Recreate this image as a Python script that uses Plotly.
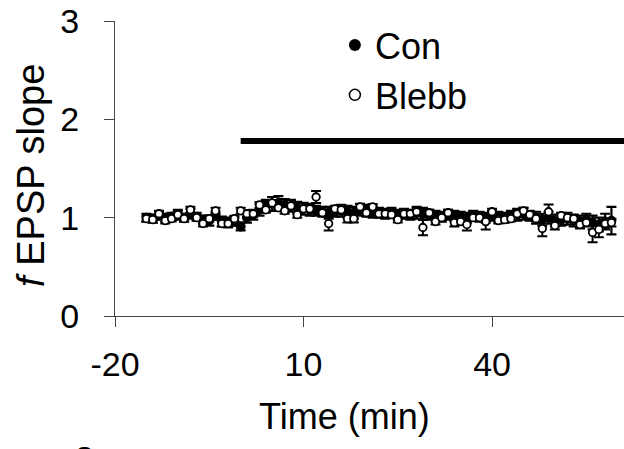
import plotly.graph_objects as go

# Time points (min), one sample per minute
time_min = list(range(-15, 60))

# Control slices: normalised fEPSP slope and SEM
con_slope = [1.00, 0.99, 1.02, 1.00, 1.01, 1.03, 1.00, 1.04, 1.01, 0.98,
             0.97, 1.02, 0.96, 0.95, 0.96,
             0.91, 1.00, 1.03, 1.08, 1.12, 1.14, 1.15, 1.13, 1.12, 1.10,
             1.09, 1.08, 1.07, 1.06, 1.05, 1.06, 1.07, 1.06, 1.05, 1.08,
             1.07, 1.06, 1.05, 1.04, 1.05, 1.03, 1.04, 1.03, 1.05, 1.04,
             1.03, 1.02, 1.01, 1.03, 1.02, 1.01, 1.00, 1.02, 1.01, 1.00,
             1.02, 1.01, 1.00, 1.02, 1.03, 1.04, 1.02, 1.00, 0.98, 1.00,
             0.97, 0.98, 0.99, 0.97, 0.96, 0.98, 0.95, 0.93, 0.96, 0.97]
con_sem = [0.04, 0.04, 0.04, 0.04, 0.04, 0.05, 0.04, 0.05, 0.04, 0.04,
           0.05, 0.04, 0.05, 0.05, 0.04,
           0.04, 0.05, 0.05, 0.06, 0.06, 0.07, 0.07, 0.06, 0.06, 0.06,
           0.06, 0.06, 0.05, 0.05, 0.06, 0.05, 0.06, 0.06, 0.06, 0.06,
           0.06, 0.06, 0.05, 0.05, 0.05, 0.05, 0.05, 0.05, 0.06, 0.06,
           0.05, 0.05, 0.05, 0.05, 0.05, 0.05, 0.05, 0.05, 0.05, 0.05,
           0.05, 0.05, 0.05, 0.05, 0.06, 0.06, 0.05, 0.06, 0.06, 0.06,
           0.06, 0.06, 0.06, 0.06, 0.06, 0.06, 0.07, 0.07, 0.08, 0.14]

# Blebbistatin slices: normalised fEPSP slope and SEM
blebb_slope = [0.99, 0.98, 1.04, 0.97, 0.99, 1.03, 0.99, 1.08, 1.00, 0.94,
               0.99, 1.07, 0.94, 0.94, 0.99,
               1.07, 1.04, 1.04, 1.13, 1.08, 1.15, 1.10, 1.07, 1.12, 1.03,
               1.09, 1.09, 1.21, 1.05, 0.94, 1.09, 1.08, 0.99, 0.99, 1.11,
               1.05, 1.11, 1.04, 1.04, 1.03, 0.98, 1.04, 1.04, 1.06, 0.90,
               1.05, 0.96, 1.00, 1.05, 0.95, 0.96, 0.93, 1.00, 1.00, 0.96,
               1.06, 0.97, 0.98, 0.99, 1.04, 1.07, 1.03, 0.99, 0.89, 1.06,
               0.92, 1.02, 1.00, 0.99, 0.93, 0.95, 0.85, 0.88, 0.94, 0.95]
blebb_sem = [0.03, 0.03, 0.03, 0.03, 0.03, 0.03, 0.03, 0.03, 0.03, 0.03,
             0.03, 0.03, 0.03, 0.03, 0.03,
             0.03, 0.03, 0.03, 0.03, 0.03, 0.03, 0.03, 0.03, 0.03, 0.03,
             0.03, 0.03, 0.06, 0.03, 0.07, 0.03, 0.03, 0.04, 0.04, 0.03,
             0.03, 0.03, 0.03, 0.03, 0.03, 0.03, 0.03, 0.03, 0.03, 0.08,
             0.03, 0.03, 0.03, 0.03, 0.04, 0.03, 0.06, 0.03, 0.03, 0.08,
             0.03, 0.03, 0.03, 0.03, 0.03, 0.03, 0.03, 0.03, 0.08, 0.075,
             0.04, 0.03, 0.03, 0.03, 0.04, 0.04, 0.10, 0.08, 0.04, 0.04]

# Drug application period (bar drawn above the traces)
drug_bar_time = [0, 61]
drug_bar_level = [1.78, 1.78]

x_ticks = [-20, 10, 40]
y_ticks = [0, 1, 2, 3]

FONT = "Liberation Sans, Arial, sans-serif"

fig = go.Figure()

fig.add_trace(go.Scatter(
    x=time_min, y=con_slope, mode="markers", name="Con", showlegend=False,
    marker=dict(symbol="circle", size=9, color="black",
                line=dict(color="black", width=1)),
    error_y=dict(type="data", array=con_sem, color="black",
                 thickness=2.2, width=5),
))
fig.add_trace(go.Scatter(
    x=time_min, y=blebb_slope, mode="markers", name="Blebb", showlegend=False,
    marker=dict(symbol="circle", size=7.5, color="white",
                line=dict(color="black", width=1.8)),
    error_y=dict(type="data", array=blebb_sem, color="black",
                 thickness=2, width=5),
))

# Legend entries
fig.add_trace(go.Scatter(
    x=[None], y=[None], mode="markers", name="Con",
    marker=dict(symbol="circle", size=12, color="black"),
))
fig.add_trace(go.Scatter(
    x=[None], y=[None], mode="markers", name="Blebb",
    marker=dict(symbol="circle", size=11, color="white",
                line=dict(color="black", width=1.5)),
))

fig.add_trace(go.Scatter(
    x=drug_bar_time, y=drug_bar_level, mode="lines", showlegend=False,
    line=dict(color="black", width=6), cliponaxis=False,
))

fig.update_layout(
    width=624, height=449,
    margin=dict(l=115, r=0, t=21, b=133),
    paper_bgcolor="white", plot_bgcolor="white",
    font=dict(family=FONT, size=34, color="black"),
    showlegend=True,
    legend=dict(x=0.432, y=1.02, xanchor="left", yanchor="top",
                bgcolor="rgba(0,0,0,0)", font=dict(size=36, family=FONT),
                itemsizing="trace", tracegroupgap=0),
    xaxis=dict(
        range=[-20, 61], tickvals=x_ticks, ticktext=[str(v) for v in x_ticks],
        showline=True, linecolor="#444", linewidth=1,
        ticks="outside", ticklen=10, tickcolor="#444", tickwidth=1,
        showgrid=False, zeroline=False,
        tickfont=dict(size=34), ticklabelstandoff=8,
    ),
    yaxis=dict(
        range=[0, 3], tickvals=y_ticks,
        showline=True, linecolor="#444", linewidth=1,
        ticks="outside", ticklen=10, tickcolor="#444", tickwidth=1,
        showgrid=False, zeroline=False,
        tickfont=dict(size=34), ticklabelstandoff=18,
    ),
    annotations=[
        dict(text="Time (min)", xref="paper", yref="paper",
             x=0.45, y=-0.342, xanchor="center", yanchor="middle",
             showarrow=False, font=dict(size=36)),
        dict(text="<i>f</i> EPSP slope", xref="paper", yref="paper",
             x=-0.165, y=0.475, xanchor="center", yanchor="middle",
             textangle=-90, showarrow=False, font=dict(size=38)),
        dict(text="3", xref="paper", yref="paper",
             x=-0.06, y=-0.41, xanchor="center", yanchor="top",
             showarrow=False, font=dict(size=34)),
    ],
)

fig.write_html("out.html")
